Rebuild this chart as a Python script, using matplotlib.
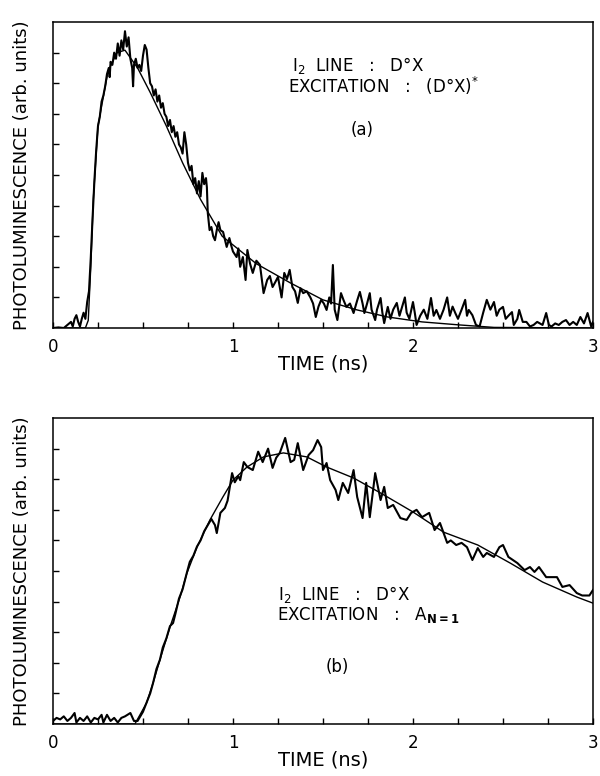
import matplotlib
matplotlib.use("Agg")
import matplotlib.pyplot as plt
import numpy as np

t_a = [0.00, 0.03, 0.06, 0.08, 0.10, 0.11, 0.12, 0.13, 0.14, 0.15, 0.16, 0.17, 0.18, 0.19,
       0.20, 0.21, 0.22, 0.23, 0.24, 0.25, 0.26, 0.27, 0.28, 0.29, 0.30, 0.31, 0.315, 0.32,
       0.33, 0.34, 0.35, 0.36, 0.37, 0.38, 0.39, 0.40, 0.41, 0.42, 0.43, 0.44, 0.445, 0.45,
       0.46, 0.47, 0.48, 0.49, 0.50, 0.51, 0.52, 0.53, 0.54, 0.55, 0.56, 0.57, 0.58, 0.59,
       0.60, 0.61, 0.62, 0.63, 0.64, 0.65, 0.66, 0.67, 0.68, 0.69, 0.70, 0.71, 0.72, 0.73,
       0.74, 0.75, 0.76, 0.77, 0.78, 0.79, 0.80, 0.81, 0.82, 0.83, 0.84, 0.85, 0.855, 0.86,
       0.87, 0.88, 0.89, 0.90, 0.91, 0.92, 0.93, 0.945, 0.955, 0.965, 0.98, 0.99, 1.00, 1.02,
       1.03, 1.04, 1.055, 1.07, 1.08, 1.095, 1.11, 1.13, 1.15, 1.17, 1.19, 1.205, 1.22, 1.235,
       1.25, 1.27, 1.285, 1.30, 1.315, 1.33, 1.345, 1.36, 1.375, 1.39, 1.41, 1.43, 1.445, 1.46,
       1.475, 1.49, 1.505, 1.52, 1.535, 1.545, 1.555, 1.565, 1.58, 1.60, 1.615, 1.63, 1.65, 1.67,
       1.69, 1.705, 1.72, 1.73, 1.745, 1.76, 1.77, 1.79, 1.80, 1.82, 1.83, 1.84, 1.86, 1.875,
       1.89, 1.91, 1.925, 1.94, 1.955, 1.965, 1.98, 2.00, 2.01, 2.02, 2.04, 2.06, 2.08, 2.10,
       2.115, 2.13, 2.15, 2.17, 2.19, 2.205, 2.22, 2.235, 2.25, 2.27, 2.29, 2.30, 2.31, 2.33,
       2.35, 2.37, 2.39, 2.41, 2.43, 2.45, 2.465, 2.48, 2.50, 2.515, 2.53, 2.55, 2.56, 2.58,
       2.59, 2.61, 2.63, 2.65, 2.67, 2.69, 2.72, 2.74, 2.755, 2.77, 2.79, 2.81, 2.83, 2.85,
       2.87, 2.89, 2.91, 2.93, 2.95, 2.97, 2.99, 3.00]
pl_a = [0.0, 0.02, 0.0, 0.1, 0.2, 0.05, 0.3, 0.42, 0.2, 0.05, 0.3, 0.5, 0.3, 0.85,
        1.2, 2.3, 3.6, 4.8, 5.8, 6.6, 6.9, 7.4, 7.6, 7.9, 8.3, 8.5, 8.2, 8.7,
        8.6, 9.0, 8.8, 9.3, 8.9, 9.4, 9.1, 9.7, 9.2, 9.5, 8.8, 8.5, 7.9, 8.6,
        8.8, 8.5, 8.6, 8.4, 8.9, 9.25, 9.1, 8.5, 8.0, 7.9, 7.6, 7.8, 7.4, 7.6,
        7.2, 7.35, 7.0, 6.9, 6.6, 6.8, 6.4, 6.6, 6.25, 6.4, 6.0, 5.9, 5.7, 6.4,
        6.0, 5.4, 5.15, 5.3, 4.7, 4.9, 4.4, 4.8, 4.3, 5.07, 4.7, 4.9, 4.6, 3.76,
        3.2, 3.3, 3.0, 2.87, 3.2, 3.46, 3.2, 3.14, 2.9, 2.65, 2.94, 2.7, 2.5, 2.32,
        2.6, 2.0, 2.32, 1.57, 2.55, 2.1, 1.8, 2.2, 2.06, 1.14, 1.57, 1.7, 1.34, 1.5,
        1.67, 1.0, 1.8, 1.6, 1.9, 1.34, 1.2, 0.82, 1.3, 1.14, 1.2, 1.0, 0.8, 0.36,
        0.7, 0.92, 0.8, 0.59, 1.0, 0.8, 2.06, 0.6, 0.26, 1.14, 0.9, 0.69, 0.8, 0.49,
        0.9, 1.18, 0.8, 0.49, 0.8, 1.14, 0.6, 0.26, 0.6, 0.98, 0.5, 0.16, 0.69, 0.3,
        0.6, 0.82, 0.4, 0.7, 1.0, 0.5, 0.3, 0.85, 0.5, 0.1, 0.4, 0.6, 0.3, 0.98,
        0.4, 0.59, 0.3, 0.6, 1.0, 0.4, 0.7, 0.49, 0.3, 0.6, 0.92, 0.4, 0.59, 0.42,
        0.1, 0.05, 0.5, 0.92, 0.6, 0.85, 0.4, 0.6, 0.69, 0.3, 0.4, 0.52, 0.1, 0.3,
        0.59, 0.2, 0.2, 0.05, 0.1, 0.2, 0.1, 0.49, 0.1, 0.05, 0.15, 0.1, 0.2, 0.26,
        0.1, 0.2, 0.1, 0.36, 0.15, 0.49, 0.05, 0.2]

# panel (a): fitted curve
fit_t_a = [0.0, 0.18, 0.196, 0.21, 0.224, 0.25, 0.278, 0.306, 0.356, 0.40, 0.47, 0.54,
           0.63, 0.72, 0.82, 0.94, 1.13, 1.32, 1.50, 1.69, 1.86, 2.05, 2.26, 2.45, 3.0]
fit_a = [0.0, 0.0, 0.25, 2.0, 4.2, 6.6, 7.5, 8.4, 9.0, 9.08, 8.5, 7.7,
         6.6, 5.4, 4.2, 3.0, 2.1, 1.47, 0.92, 0.59, 0.36, 0.2, 0.1, 0.02, 0.0]

# panel (b): measured trace
t_b = [0.00, 0.02, 0.04, 0.06, 0.08, 0.10, 0.12, 0.13, 0.15, 0.17, 0.19, 0.21, 0.23, 0.25,
       0.27, 0.28, 0.30, 0.32, 0.34, 0.36, 0.38, 0.40, 0.43, 0.45, 0.47, 0.50, 0.52, 0.54,
       0.556, 0.575, 0.594, 0.61, 0.63, 0.65, 0.667, 0.68, 0.70, 0.72, 0.744, 0.76, 0.78, 0.80,
       0.82, 0.84, 0.86, 0.88, 0.90, 0.91, 0.93, 0.955, 0.97, 0.995, 1.01, 1.03, 1.04, 1.06,
       1.08, 1.11, 1.14, 1.165, 1.195, 1.22, 1.24, 1.26, 1.29, 1.32, 1.34, 1.36, 1.39, 1.42,
       1.445, 1.47, 1.49, 1.50, 1.52, 1.54, 1.57, 1.585, 1.61, 1.64, 1.67, 1.69, 1.72, 1.74,
       1.76, 1.79, 1.82, 1.84, 1.86, 1.89, 1.93, 1.965, 1.99, 2.02, 2.05, 2.09, 2.12, 2.15,
       2.19, 2.21, 2.24, 2.27, 2.30, 2.33, 2.36, 2.39, 2.41, 2.45, 2.48, 2.50, 2.53, 2.555,
       2.58, 2.62, 2.65, 2.675, 2.70, 2.74, 2.80, 2.83, 2.87, 2.91, 2.94, 2.98, 3.00]
pl_b = [0.1, 0.2, 0.15, 0.25, 0.1, 0.2, 0.36, 0.05, 0.2, 0.1, 0.25, 0.05, 0.2, 0.15,
        0.3, 0.05, 0.3, 0.1, 0.2, 0.05, 0.2, 0.25, 0.36, 0.1, 0.1, 0.4, 0.7, 1.0,
        1.34, 1.8, 2.1, 2.5, 2.8, 3.2, 3.3, 3.6, 4.1, 4.4, 4.95, 5.3, 5.5, 5.8,
        6.0, 6.3, 6.5, 6.7, 6.5, 6.24, 6.9, 7.06, 7.3, 8.2, 7.9, 8.1, 7.97, 8.56,
        8.4, 8.3, 8.9, 8.56, 9.0, 8.37, 8.7, 8.86, 9.35, 8.56, 8.63, 9.18, 8.3, 8.79,
        8.95, 9.28, 9.05, 8.3, 8.53, 7.97, 7.65, 7.32, 7.88, 7.55, 8.3, 7.42, 6.73, 7.88,
        6.76, 8.2, 7.32, 7.75, 7.06, 7.16, 6.73, 6.67, 6.9, 7.0, 6.76, 6.9, 6.34, 6.57,
        5.92, 6.0, 5.85, 5.92, 5.78, 5.36, 5.75, 5.46, 5.59, 5.46, 5.78, 5.85, 5.46, 5.36,
        5.26, 5.03, 5.13, 4.97, 5.13, 4.8, 4.8, 4.48, 4.54, 4.28, 4.2, 4.2, 4.38]

# panel (b): fitted curve
fit_t_b = [0.0, 0.455, 0.52, 0.556, 0.594, 0.65, 0.706, 0.744, 0.80, 0.872, 0.944, 1.0,
           1.078, 1.17, 1.28, 1.41, 1.52, 1.67, 1.82, 2.0, 2.17, 2.36, 2.54, 2.72, 2.91, 3.0]
fit_b = [0.0, 0.0, 0.69, 1.34, 2.09, 3.17, 4.15, 4.93, 5.78, 6.67, 7.42, 7.97,
         8.4, 8.73, 8.86, 8.73, 8.4, 8.04, 7.55, 6.93, 6.27, 5.85, 5.26, 4.64, 4.15, 3.95]

x_ticks = [0, 1, 2, 3]
x_tick_labels = ["0", "1", "2", "3"]

fig = plt.figure(figsize=(6.0, 7.76), dpi=100)
ax_a = fig.add_axes([0.0883, 0.5773, 0.9, 0.3943])
ax_b = fig.add_axes([0.0883, 0.067, 0.9, 0.3943])

panels = [
    (ax_a, t_a, pl_a, fit_t_a, fit_a),
    (ax_b, t_b, pl_b, fit_t_b, fit_b),
]

for ax, t, pl, ft, fv in panels:
    ax.plot(ft, fv, color="black", lw=1.0, zorder=2)
    ax.plot(t, pl, color="black", lw=1.5, zorder=3)
    ax.set_xlim(0, 3)
    ax.set_ylim(0, 10)
    ax.set_xticks(x_ticks)
    ax.set_xticklabels(x_tick_labels, fontsize=12)
    ax.set_xticks(np.arange(0.25, 3.0, 0.25), minor=True)
    ax.set_yticks(range(1, 10))
    ax.set_yticklabels([])
    ax.tick_params(axis="both", which="both", direction="in", length=4, width=1,
                   top=False, right=False)
    ax.tick_params(axis="x", which="major", pad=7)
    for s in ax.spines.values():
        s.set_linewidth(1.1)
    ax.set_xlabel("TIME (ns)", fontsize=14, labelpad=-1)
    ax.set_ylabel("PHOTOLUMINESCENCE (arb. units)", fontsize=13, labelpad=12)

fs = 12
ax_a.text(1.328, 8.58, "I$_2$  LINE   :   D°X", fontsize=fs, va="center")
ax_a.text(1.306, 7.91, "EXCITATION   :   (D°X)$^{*}$", fontsize=fs, va="center")
ax_a.text(1.717, 6.47, "(a)", fontsize=fs, ha="center", va="center")

ax_b.text(1.25, 4.24, "I$_2$  LINE   :   D°X", fontsize=fs, va="center")
ax_b.text(1.244, 3.56, "EXCITATION   :   A$_{\\mathbf{N=1}}$", fontsize=fs, va="center")
ax_b.text(1.578, 1.86, "(b)", fontsize=fs, ha="center", va="center")

fig.savefig("out.png", dpi=100)
